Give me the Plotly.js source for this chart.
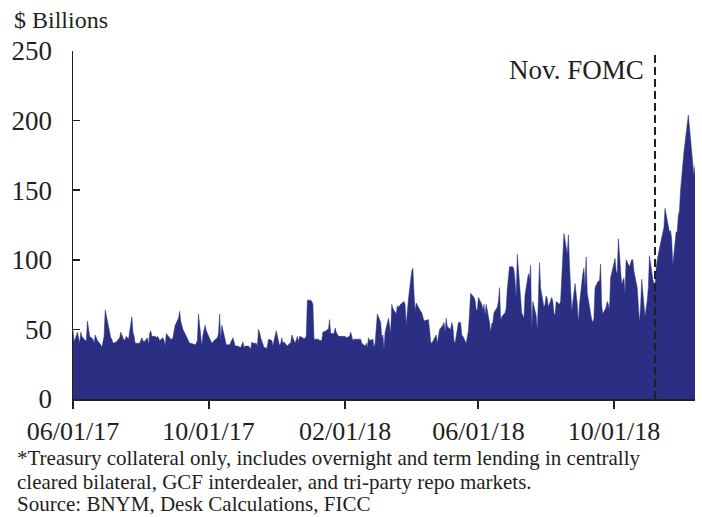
<!DOCTYPE html>
<html><head><meta charset="utf-8">
<script src="https://cdn.plot.ly/plotly-3.0.1.min.js"></script>
<style>html,body{margin:0;padding:0;background:#fff}</style>
</head><body><div id="chart" style="width:702px;height:517px"></div>
<script>
// Daily (business-day) values, $ billions, starting 2017-06-01
const startDate = "2017-06-01";
const vol2017 = [
  49, 41,
  48, 42, 40, 48, 45,
  42, 42, 56, 48, 45,
  43, 40, 46, 44, 42,
  39, 37, 41, 45, 64,
  53, 47, 44, 43, 40,
  41, 42, 43, 44, 48,
  42, 43, 45, 44, 43,
  59, 48, 45, 40, 40,
  40, 42, 44, 42, 41,
  44, 39, 47, 49, 45,
  45, 44, 45, 44, 42,
  44, 42, 38, 47, 46,
  43, 43, 44, 49, 53,
  58, 63, 56, 52, 50,
  45, 43, 41, 40, 40,
  39, 39, 40, 42, 61,
  38, 46, 49, 53, 49,
  43, 42, 40, 41, 42,
  44, 47, 61, 42, 53,
  41, 39, 39, 39, 39,
  44, 40, 38, 38, 38,
  37, 39, 41, 37, 38,
  38, 37, 36, 41, 40,
  40, 38, 50, 48, 44,
  37, 37, 36, 38, 43,
  42, 38, 42, 45, 49,
  38, 40, 44, 40, 41,
  38, 39, 40, 40, 46,
  40, 43, 45, 41, 45,
  44, 43, 44, 45, 71
];
const vol2018H1 = [
  71, 70, 68, 43, 43,
  43, 42, 42, 42, 48,
  49, 50, 50, 57, 47,
  47, 51, 48, 46, 45,
  45, 45, 45, 45, 44,
  45, 48, 44, 42, 43,
  43, 43, 43, 43, 40,
  38, 40, 37, 44, 42,
  43, 37, 40, 52, 61,
  55, 44, 46, 36, 48,
  58, 53, 47, 68, 65,
  61, 67, 66, 67, 68,
  70, 68, 53, 62, 72,
  92, 94, 76, 63, 69,
  64, 63, 62, 59, 56,
  57, 57, 50, 41, 40,
  45, 46, 40, 47, 50,
  53, 55, 48, 58, 52,
  50, 55, 52, 42, 40,
  55, 55, 55, 46, 45,
  40, 45, 49, 62, 76,
  73, 71, 64, 64, 73,
  68, 64, 68, 60, 68,
  55, 48, 54, 55, 62,
  66, 70, 80, 57, 59,
  62, 65, 79, 89, 95
];
const vol2018H2 = [
  95, 93, 85, 72, 104,
  70, 62, 60, 58, 75,
  90, 86, 96, 50, 70,
  60, 49, 72, 98, 80,
  66, 68, 74, 72, 66,
  73, 70, 62, 60, 70,
  68, 70, 84, 98, 119,
  104, 118, 97, 80, 63,
  83, 76, 68, 55, 68,
  90, 94, 80, 102, 76,
  60, 57, 55, 58, 80,
  85, 84, 97, 67, 61,
  66, 70, 68, 64, 87,
  97, 101, 92, 90, 115,
  82, 85, 87, 76, 100,
  95, 98, 100, 100, 92,
  80, 68, 55, 66, 86,
  59, 64, 71, 80, 103,
  86, 82, 80, 94, 100,
  112, 116, 120, 123, 137,
  122, 120, 121, 115, 96,
  120, 120, 132, 135, 150,
  177, 184, 190, 198, 204,
  178, 166, 160, 168
];
const tickDates = ["2017-06-01", "2017-10-01", "2018-02-01", "2018-06-01", "2018-10-01"];
const tickLabels = ["06/01/17", "10/01/17", "02/01/18", "06/01/18", "10/01/18"];
const yTicks = [0, 50, 100, 150, 200, 250];
const fomcDate = "2018-11-07";
const fomcLabel = "Nov. FOMC";
const yTitle = "$ Billions";
const notes = [
  "*Treasury collateral only, includes overnight and term lending in centrally",
  "cleared bilateral, GCF interdealer, and tri-party repo markets.",
  "Source: BNYM, Desk Calculations, FICC"
];

const values = vol2017.concat(vol2018H1, vol2018H2);
function businessDays(start, n) {
  const out = [];
  const d = new Date(start + "T00:00:00Z");
  while (out.length < n) {
    const wd = d.getUTCDay();
    if (wd !== 0 && wd !== 6) out.push(d.toISOString().slice(0, 10));
    d.setUTCDate(d.getUTCDate() + 1);
  }
  return out;
}
const dates = businessDays(startDate, values.length);

const FONT = '"Liberation Serif", "Times New Roman", Times, serif';
const INK = '#231f20';
const FILL = 'rgb(43,47,131)';

const trace = {
  type: 'scatter', mode: 'lines', x: dates, y: values,
  fill: 'tozeroy', fillcolor: FILL,
  line: {color: FILL, width: 0.5}, hoverinfo: 'skip'
};

const L = 73, R = 7, T = 51, B = 118;
const PW = 702 - L - R, PH = 517 - T - B;
const px = v => (v - L) / PW;
const py = v => (517 - B - v) / PH;

const layout = {
  width: 702, height: 517,
  margin: {l: L, r: R, t: T, b: B},
  paper_bgcolor: '#fff', plot_bgcolor: '#fff',
  showlegend: false,
  font: {family: FONT, color: INK, size: 26},
  xaxis: {
    type: 'date', range: [dates[0], dates[dates.length - 1]],
    tickvals: tickDates, ticktext: tickLabels,
    ticks: 'outside', ticklen: 8, tickwidth: 2, tickcolor: INK,
    showline: true, linecolor: INK, linewidth: 2,
    showgrid: false, zeroline: false,
    tickfont: {family: FONT, size: 26, color: INK}
  },
  yaxis: {
    range: [0, 250], tickvals: yTicks,
    ticks: 'inside', ticklen: 7, tickwidth: 1.5, tickcolor: INK,
    showline: true, linecolor: INK, linewidth: 1.5,
    showgrid: false, zeroline: false,
    ticklabelstandoff: 14,
    tickfont: {family: FONT, size: 27, color: INK}
  },
  shapes: [{
    type: 'line', xref: 'x', yref: 'paper',
    x0: fomcDate, x1: fomcDate, y0: 0, y1: 1,
    line: {color: INK, width: 2, dash: '8px,4px'}
  }],
  annotations: [
    {xref: 'x', yref: 'paper', x: fomcDate, y: py(70), xanchor: 'right', yanchor: 'middle',
     xshift: -9, text: fomcLabel, showarrow: false, font: {family: FONT, size: 27, color: INK}},
    {xref: 'paper', yref: 'paper', x: px(12), y: py(20), xanchor: 'left', yanchor: 'middle',
     text: yTitle, showarrow: false, font: {family: FONT, size: 24, color: INK}},
    {xref: 'paper', yref: 'paper', x: px(15), y: py(458), xanchor: 'left', yanchor: 'middle',
     text: notes[0], showarrow: false, font: {family: FONT, size: 21, color: INK}},
    {xref: 'paper', yref: 'paper', x: px(15), y: py(482), xanchor: 'left', yanchor: 'middle',
     text: notes[1], showarrow: false, font: {family: FONT, size: 21, color: INK}},
    {xref: 'paper', yref: 'paper', x: px(15), y: py(504), xanchor: 'left', yanchor: 'middle',
     text: notes[2], showarrow: false, font: {family: FONT, size: 21, color: INK}}
  ]
};

Plotly.newPlot('chart', [trace], layout, {displayModeBar: false, staticPlot: true});
</script>
</body></html>
